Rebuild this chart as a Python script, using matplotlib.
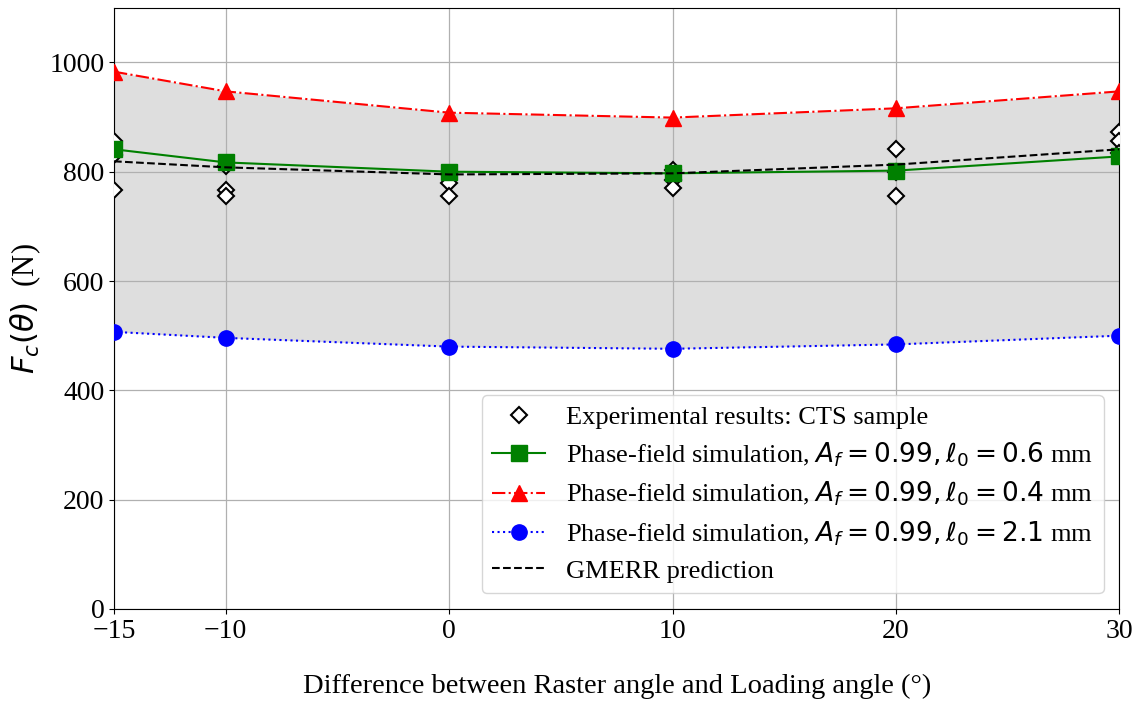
import numpy as np
import matplotlib
matplotlib.use("Agg")
import matplotlib.pyplot as plt

plt.rcParams["font.family"] = ["Liberation Serif", "DejaVu Serif"]
plt.rcParams["mathtext.fontset"] = "dejavusans"

angles = [-15, -10, 0, 10, 20, 30]

# experimental CTS results (three samples per angle)
exp_angles = [-15, -15, -15, -10, -10, -10, 0, 0, 0, 10, 10, 10, 20, 20, 20, 30, 30, 30]
exp_force = [857, 830, 766, 810, 767, 755, 796, 780, 756, 804, 785, 771, 842, 800, 755, 873, 856, 835]

pf_l06 = [841, 817, 800, 797, 802, 828]
pf_l04 = [983, 947, 908, 899, 916, 947]
pf_l21 = [507, 496, 480, 476, 484, 500]
gmerr = [819, 808, 795, 797, 813, 841]

fig, ax = plt.subplots(figsize=(11.4, 7.02), dpi=100)
fig.subplots_adjust(left=0.1, right=0.982, top=0.989, bottom=0.1325)

ax.fill_between(angles, pf_l21, pf_l04, color="#dedede", zorder=1, linewidth=0)

ax.plot(exp_angles, exp_force, linestyle="none", marker="D", markersize=8.5,
        markerfacecolor="white", markeredgecolor="black", markeredgewidth=1.5,
        label="Experimental results: CTS sample", zorder=3)
ax.plot(angles, pf_l06, color="green", linestyle="-", linewidth=1.5, marker="s",
        markersize=11, label=r"Phase-field simulation, $A_f = 0.99, \ell_0 = 0.6$ mm", zorder=4)
ax.plot(angles, pf_l04, color="red", linestyle="-.", linewidth=1.5, marker="^",
        markersize=12, label=r"Phase-field simulation, $A_f = 0.99, \ell_0 = 0.4$ mm", zorder=4)
ax.plot(angles, pf_l21, color="blue", linestyle=":", linewidth=1.5, marker="o",
        markersize=11, label=r"Phase-field simulation, $A_f = 0.99, \ell_0 = 2.1$ mm", zorder=4)
ax.plot(angles, gmerr, color="black", linestyle="--", linewidth=1.5,
        label="GMERR prediction", zorder=5)

ax.set_xlim(-15, 30)
ax.set_ylim(0, 1100)
ax.set_xticks(angles)
ax.set_xticklabels(["\u221215", "\u221210", "0", "10", "20", "30"])
ax.set_yticks([0, 200, 400, 600, 800, 1000])
ax.tick_params(labelsize=20)
ax.grid(True, color="#b0b0b0", linewidth=0.9)

ax.set_xlabel("Difference between Raster angle and Loading angle (\u00b0)", fontsize=20.5, labelpad=22)
ax.set_ylabel(r"$F_c(\theta)$  (N)", fontsize=22)
ax.yaxis.set_label_coords(-0.071, 0.5)

ax.legend(loc="lower right", fontsize=19, frameon=True, borderaxespad=0.6, labelspacing=0.42)

fig.savefig("out.png", dpi=100)
